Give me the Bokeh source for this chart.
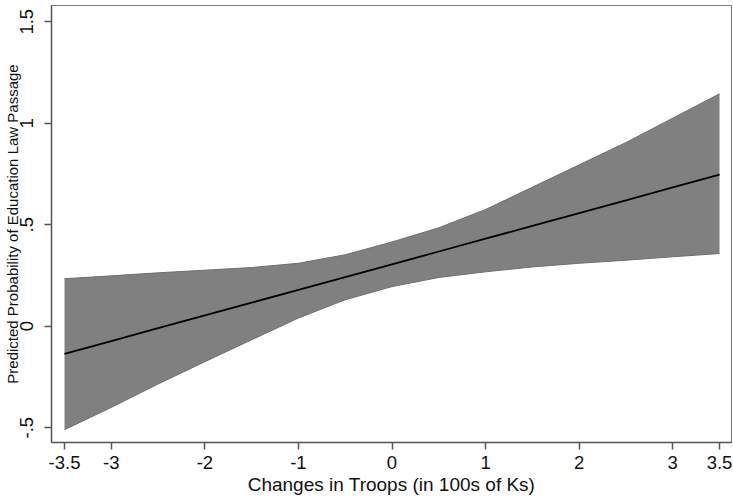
from bokeh.plotting import figure
from bokeh.models import FixedTicker, CustomJSTickFormatter, Range1d
from bokeh.embed import file_html
from bokeh.resources import INLINE

# data
x_vals = [-3.5, -3.0, -2.5, -2.0, -1.5, -1.0, -0.5, 0.0, 0.5, 1.0, 1.5, 2.0, 2.5, 3.0, 3.5]
fit = [-0.136, -0.073, -0.010, 0.053, 0.116, 0.179, 0.242, 0.305, 0.368, 0.431, 0.494, 0.557, 0.620, 0.684, 0.747]
upper = [0.234, 0.248, 0.263, 0.276, 0.289, 0.310, 0.352, 0.415, 0.485, 0.575, 0.685, 0.795, 0.905, 1.025, 1.145]
lower = [-0.510, -0.400, -0.285, -0.175, -0.067, 0.040, 0.130, 0.195, 0.240, 0.268, 0.292, 0.310, 0.325, 0.342, 0.358]

xtick_values = [-3.5, -3, -2, -1, 0, 1, 2, 3, 3.5]
xtick_labels = ["-3.5", "-3", "-2", "-1", "0", "1", "2", "3", "3.5"]
ytick_values = [-0.5, 0, 0.5, 1, 1.5]
ytick_labels = ["-.5", "0", ".5", "1", "1.5"]

x_title = "Changes in Troops (in 100s of Ks)"
y_title = "Predicted Probability of Education Law Passage"

p = figure(width=733, height=497, output_backend="svg", toolbar_location=None,
           x_range=Range1d(-3.639, 3.628), y_range=Range1d(-0.573, 1.580),
           min_border_left=51, min_border_right=2, min_border_top=5, min_border_bottom=55)
p.background_fill_color = "white"
p.border_fill_color = "white"
p.grid.visible = False
p.outline_line_color = "#7a7a7a"
p.outline_line_width = 1

p.varea(x=x_vals, y1=lower, y2=upper, fill_color="#808080", fill_alpha=1.0)
p.line(x_vals, upper, line_color="#6e6e6e", line_width=1)
p.line(x_vals, lower, line_color="#6e6e6e", line_width=1)
p.line(x_vals, fit, line_color="black", line_width=1.8)

fmt_code = "const i = vals.indexOf(tick); return i >= 0 ? labs[i] : String(tick);"
p.xaxis.ticker = FixedTicker(ticks=xtick_values)
p.xaxis.formatter = CustomJSTickFormatter(args=dict(vals=xtick_values, labs=xtick_labels), code=fmt_code)
p.yaxis.ticker = FixedTicker(ticks=ytick_values)
p.yaxis.formatter = CustomJSTickFormatter(args=dict(vals=ytick_values, labs=ytick_labels), code=fmt_code)

for ax in (p.xaxis, p.yaxis):
    ax.axis_line_color = "#555555"
    ax.axis_line_width = 1.5
    ax.major_tick_line_color = "#555555"
    ax.major_tick_line_width = 1.5
    ax.major_tick_in = 0
    ax.major_tick_out = 7
    ax.minor_tick_line_color = None
    ax.major_label_text_font = "Liberation Sans"
    ax.major_label_text_font_size = "18.5px"
    ax.major_label_text_color = "#111111"
    ax.axis_label_text_font = "Liberation Sans"
    ax.axis_label_text_font_style = "normal"
    ax.axis_label_text_color = "#111111"

p.xaxis.axis_label = x_title
p.xaxis.axis_label_text_font_size = "19px"
p.xaxis.major_label_standoff = 6
p.xaxis.axis_label_standoff = 2

p.yaxis.axis_label = y_title
p.yaxis.axis_label_text_font_size = "15px"
p.yaxis.major_label_orientation = "vertical"
p.yaxis.major_label_standoff = 11
p.yaxis.axis_label_standoff = -3

open("out.html", "w").write(file_html(p, INLINE))
